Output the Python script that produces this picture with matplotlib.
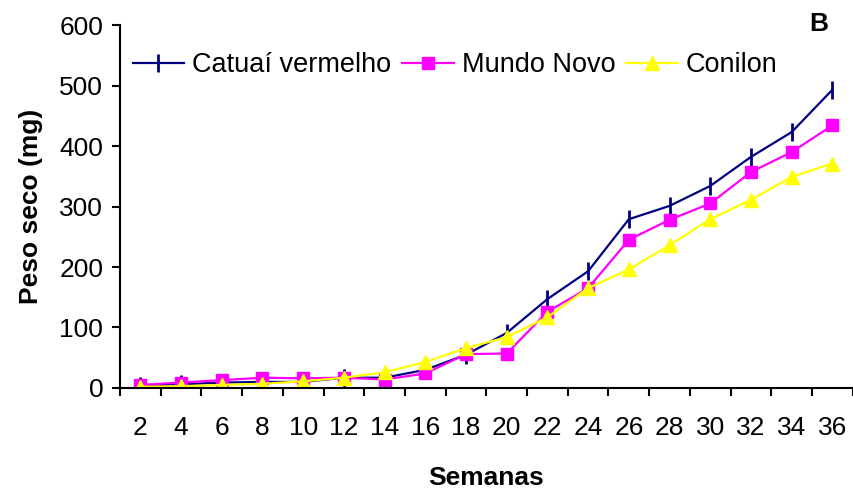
import matplotlib
matplotlib.use("Agg")
import matplotlib.pyplot as plt
import numpy as np

plt.rcParams['font.family'] = ['Liberation Sans', 'DejaVu Sans']

weeks = [2, 4, 6, 8, 10, 12, 14, 16, 18, 20, 22, 24, 26, 28, 30, 32, 34, 36]
catuai = [4, 6, 9, 10, 10, 17, 17, 30, 55, 91, 147, 193, 279, 301, 334, 382, 423, 493]
mundo_novo = [5, 9, 13, 17, 16, 17, 14, 24, 56, 57, 126, 165, 245, 278, 305, 357, 390, 434]
conilon = [2, 3, 5, 7, 11, 17, 26, 43, 66, 84, 117, 165, 196, 236, 279, 311, 349, 371]
series_names = ["Catuaí vermelho", "Mundo Novo", "Conilon"]

fig = plt.figure(figsize=(8.54, 4.91), dpi=100)
ax = fig.add_axes([0.1405, 0.2098, 0.858, 0.7392])
x = np.arange(len(weeks))

ax.plot(x, catuai, color='#000080', lw=1.6, marker='|', ms=13, mew=2, label=series_names[0])
ax.plot(x, mundo_novo, color='#FF00FF', lw=1.6, marker='s', ms=9, label=series_names[1])
ax.plot(x, conilon, color='#FFFF00', lw=1.6, marker='^', ms=10, label=series_names[2])

ax.set_xlim(-0.5, len(weeks) - 0.5)
ax.set_ylim(0, 600)
ax.set_yticks(range(0, 601, 100))
ax.set_xticks(x)
ax.set_xticklabels([str(w) for w in weeks], fontsize=19)
ax.set_xticks(np.arange(-0.5, len(weeks), 1), minor=True)
ax.tick_params(axis='x', which='major', length=0, pad=20)
ax.tick_params(axis='x', which='minor', length=6, width=1.5, direction='out')
ax.tick_params(axis='y', labelsize=19, length=6, width=1.5, direction='out', pad=6)
for s in ['top', 'right']:
    ax.spines[s].set_visible(False)
for s in ['left', 'bottom']:
    ax.spines[s].set_linewidth(1.5)

ax.set_xlabel("Semanas", fontsize=19, fontweight='bold', labelpad=19)
ax.set_ylabel("Peso seco (mg)", fontsize=19, fontweight='bold', labelpad=12)

leg = ax.legend(loc='upper left', bbox_to_anchor=(-0.005, 0.97), ncol=3, frameon=False,
                fontsize=19.5, handlelength=1.9, handletextpad=0.3, columnspacing=0.4,
                borderaxespad=0.2)
fig.text(0.959, 0.951, "B", fontsize=19, fontweight='bold', ha='center', va='center')

fig.savefig("out.png", dpi=100)
